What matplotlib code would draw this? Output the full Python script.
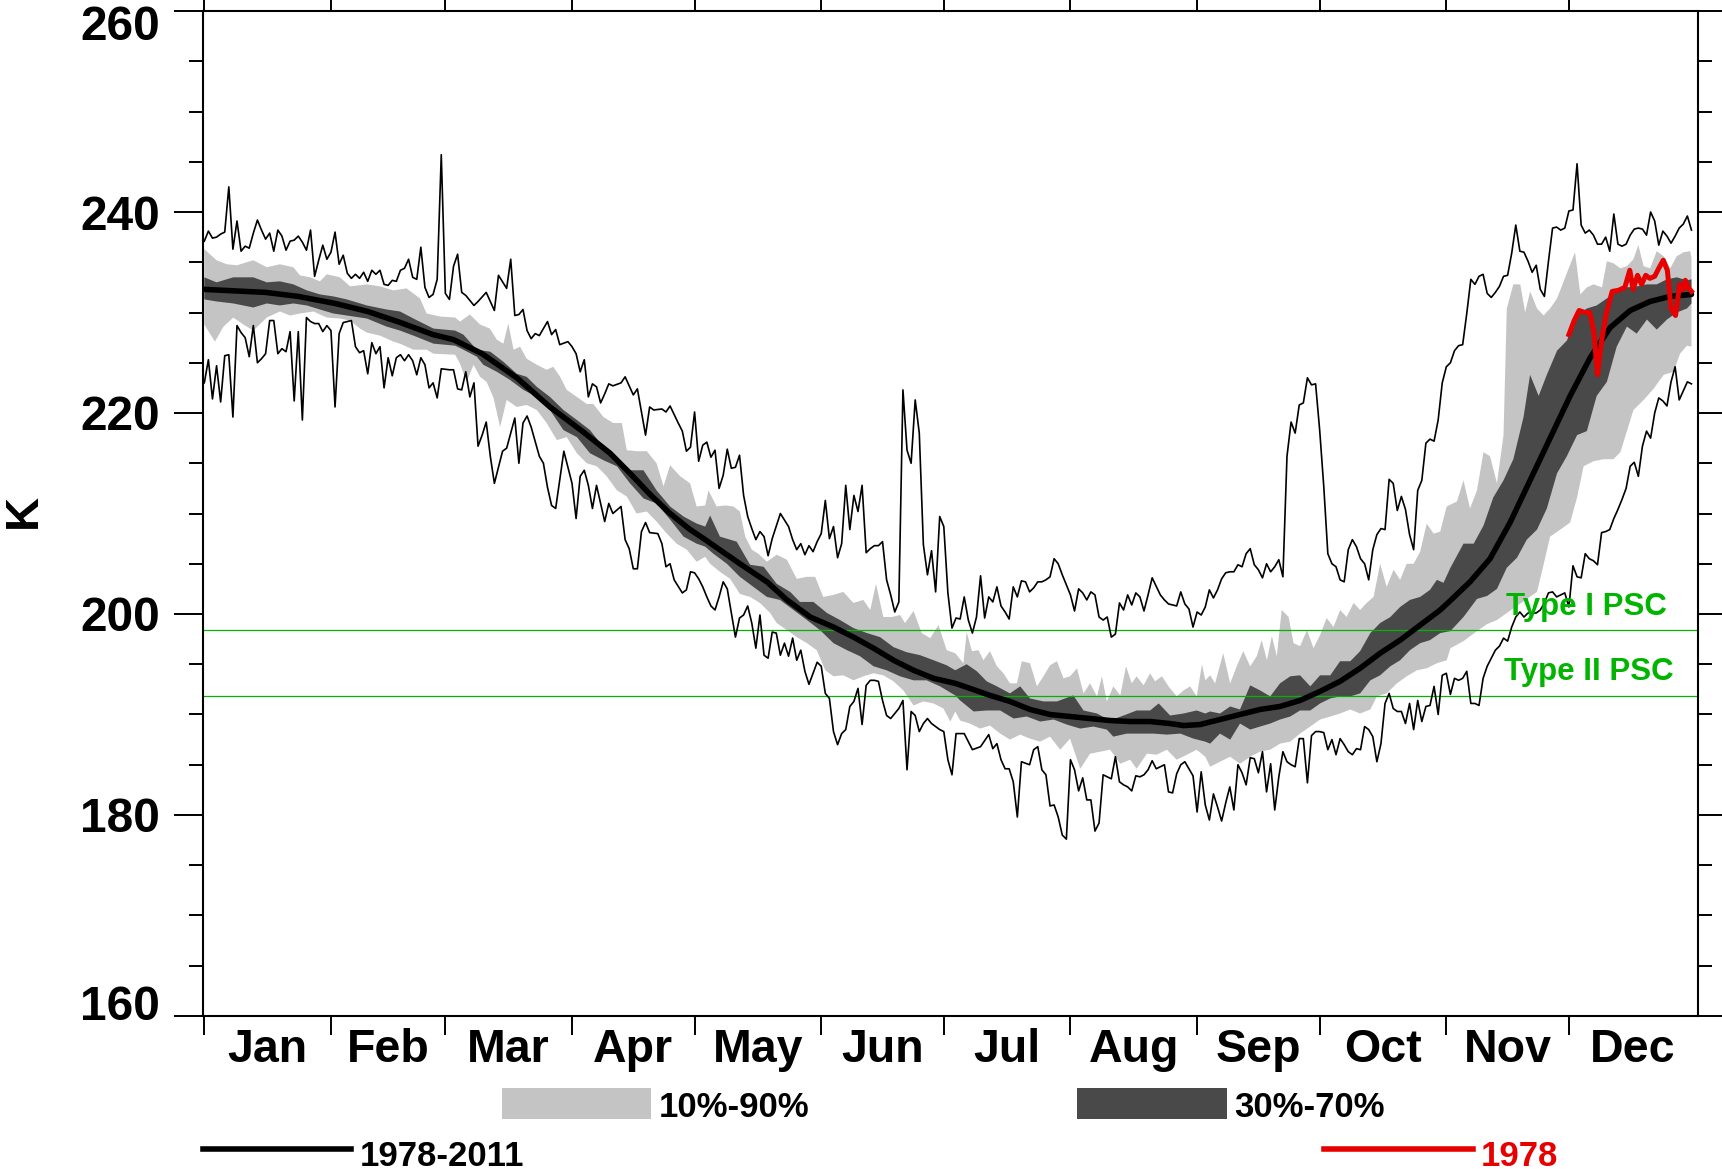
import numpy as np
import matplotlib
matplotlib.use("Agg")
import matplotlib.pyplot as plt
from matplotlib.ticker import MultipleLocator
from matplotlib.patches import Rectangle
from matplotlib.lines import Line2D
from matplotlib.transforms import ScaledTranslation

plt.rcParams['font.family'] = ['Liberation Sans', 'DejaVu Sans']
plt.rcParams['font.weight'] = 'bold'

# ---------------- data ----------------
months = ['Jan', 'Feb', 'Mar', 'Apr', 'May', 'Jun', 'Jul', 'Aug', 'Sep', 'Oct', 'Nov', 'Dec']
month_start = [1, 32, 60, 91, 121, 152, 182, 213, 244, 274, 305, 335]
year_end = 366
y_ticks = [160, 180, 200, 220, 240, 260]
psc_type1 = 198.4
psc_type2 = 191.8

# daily maximum (day, K)
tmax = [(1,237.1),(2,238.1),(3,237.4),(4,237.5),(5,237.8),(6,238.0),(7,242.5),(8,236.3),(9,239.1),(10,236.1),
(11,236.6),(12,236.4),(13,237.9),(14,239.2),(15,238.2),(16,237.3),(17,237.9),(18,236.1),(19,238.2),(20,237.6),
(21,236.2),(22,237.1),(23,237.2),(24,237.6),(25,237.0),(26,236.2),(27,238.2),(28,233.6),(29,235.2),(30,236.7),
(31,235.3),(32,236.0),(33,238.0),(34,234.8),(35,235.7),(36,233.9),(37,233.4),(38,233.8),(39,233.4),(40,234.0),
(41,233.1),(42,234.2),(43,233.8),(44,234.2),(45,232.8),(46,232.7),(47,233.2),(48,233.1),(49,234.2),(50,234.4),
(51,235.3),(52,233.5),(53,233.3),(54,236.5),(55,232.5),(56,231.5),(57,231.8),(58,233.3),(59,245.7),(60,231.9),
(61,231.3),(62,234.6),(63,235.8),(64,232.0),(65,231.7),(67,230.7),(68,231.1),(70,232.0),(72,230.2),(73,233.7),
(75,232.4),(76,235.3),(77,229.7),(78,229.8),(79,230.3),(80,228.2),(81,227.4),(82,227.9),(83,227.7),(85,229.1),
(86,227.8),(87,228.3),(88,226.8),(90,227.1),(91,226.6),(92,225.9),(93,224.1),(94,225.3),(95,221.6),(96,222.9),
(97,222.6),(98,221.0),(99,221.9),(100,222.9),(101,222.7),(103,223.0),(104,223.6),(106,221.8),(107,222.4),(109,217.8),
(110,220.6),(111,220.3),(113,220.4),(114,220.1),(115,220.7),(117,219.0),(118,218.2),(119,216.2),(120,216.6),(121,220.1),
(122,215.2),(123,216.8),(124,217.1),(125,215.6),(126,216.3),(127,212.5),(128,213.8),(129,216.4),(130,214.5),(131,214.6),
(132,215.8),(133,211.8),(134,209.7),(135,208.5),(136,207.4),(137,208.2),(138,207.7),(139,205.8),(140,207.5),(142,210.0),
(144,208.7),(145,207.4),(146,206.4),(147,207.0),(148,205.9),(149,206.8),(150,206.2),(151,207.2),(152,208.0),(153,211.3),
(154,207.5),(155,208.7),(156,205.6),(157,207.0),(158,212.8),(159,208.4),(160,211.8),(161,210.2),(162,212.8),(163,206.1),
(164,206.5),(165,206.8),(166,206.8),(167,207.2),(168,203.4),(169,201.9),(170,200.2),(171,201.2),(172,222.3),(173,216.3),
(174,215.0),(175,221.3),(176,218.0),(177,206.9),(178,203.9),(179,206.3),(180,202.2),(181,209.7),(182,208.7),(183,202.1),
(184,198.6),(185,199.6),(186,199.5),(187,201.7),(188,199.4),(189,198.1),(190,199.7),(191,203.8),(192,199.6),(193,201.7),
(194,201.2),(195,202.7),(196,200.8),(197,200.2),(198,199.5),(199,202.7),(200,201.7),(201,203.3),(202,203.2),(203,202.2),
(204,202.6),(205,203.2),(206,203.2),(207,203.4),(208,203.7),(209,205.5),(210,205.0),(211,203.9),(212,202.9),(213,201.9),
(214,200.3),(215,202.5),(216,202.1),(217,201.4),(218,202.2),(219,201.9),(220,199.7),(221,199.4),(222,199.7),(223,197.7),
(224,198.0),(225,201.1),(226,200.4),(227,201.9),(228,200.9),(229,202.1),(230,201.7),(231,200.3),(232,201.9),(233,203.6),
(235,201.9),(236,201.4),(237,201.0),(239,200.8),(240,202.2),(241,201.0),(242,200.5),(243,198.7),(244,200.2),(245,199.9),
(246,200.7),(247,202.4),(248,201.6),(249,202.4),(250,203.5),(251,204.1),(252,204.2),(253,204.2),(254,204.9),(255,204.7),
(256,206.0),(257,206.5),(258,204.9),(259,204.4),(260,203.6),(261,205.0),(262,204.2),(263,204.7),(264,205.4),(265,203.7),
(266,215.7),(267,219.1),(268,218.0),(269,220.8),(270,221.0),(271,223.5),(272,222.8),(273,222.9),(274,218.3),(275,212.7),
(276,206.0),(277,205.0),(278,204.7),(279,203.4),(280,203.2),(281,206.4),(282,207.4),(283,206.7),(284,205.5),(285,205.0),
(286,203.4),(287,206.4),(288,207.9),(289,208.5),(290,208.4),(291,213.4),(292,213.0),(293,210.3),(294,211.7),(295,210.4),
(296,207.9),(297,206.4),(298,212.3),(299,213.3),(300,217.0),(301,217.4),(302,217.2),(303,219.3),(304,223.0),(305,224.6),
(306,225.0),(307,226.2),(308,226.7),(309,226.8),(310,229.9),(311,233.3),(312,232.8),(313,233.6),(314,233.8),(315,231.9),
(316,231.5),(317,232.0),(318,232.6),(319,233.6),(320,233.7),(321,235.9),(322,238.7),(323,236.1),(324,236.0),(325,235.1),
(326,234.0),(327,234.7),(328,232.3),(329,231.6),(330,235.1),(331,238.4),(332,238.5),(333,238.2),(334,238.4),(335,240.1),
(336,240.2),(337,244.8),(338,238.7),(339,237.9),(340,238.2),(341,237.7),(342,236.8),(343,236.8),(344,237.5),(345,236.1),
(346,239.8),(347,236.8),(348,236.6),(349,236.8),(350,237.7),(351,238.3),(352,238.4),(353,238.3),(354,237.7),(355,240.0),
(356,239.1),(357,236.7),(358,238.1),(359,237.6),(360,236.9),(361,237.6),(362,238.4),(363,238.8),(364,239.6),(365,238.2)]

# daily minimum (day, K)
tmin = [(1,223.0),(2,225.3),(3,221.4),(4,224.7),(5,221.1),(6,225.7),(7,225.8),(8,219.6),(9,228.7),(10,228.0),
(11,227.5),(12,225.6),(13,228.7),(14,225.0),(15,225.4),(16,225.9),(17,229.2),(18,229.2),(19,225.9),(20,226.4),
(21,226.1),(22,228.1),(23,221.2),(24,228.1),(25,219.3),(26,229.5),(27,229.1),(28,228.9),(29,228.9),(30,228.1),
(31,228.7),(32,228.2),(33,220.6),(34,227.9),(35,229.0),(36,229.1),(37,229.2),(38,226.6),(39,226.0),(40,226.2),
(41,223.9),(42,227.0),(43,225.9),(44,226.6),(45,222.5),(46,225.5),(47,223.7),(48,225.5),(49,225.8),(50,225.2),
(51,225.8),(52,225.2),(53,223.8),(54,225.5),(55,224.8),(56,222.5),(57,223.0),(58,221.5),(59,224.4),(61,224.3),
(62,224.3),(63,222.4),(64,222.3),(65,224.1),(66,221.6),(67,223.0),(68,216.7),(69,217.8),(70,219.1),(71,215.7),
(72,213.0),(74,216.2),(75,216.5),(77,219.5),(78,215.0),(79,219.0),(80,219.7),(81,218.6),(83,215.7),(84,215.0),
(85,212.6),(86,210.8),(87,210.5),(89,216.2),(91,213.0),(92,209.5),(93,213.7),(94,214.3),(95,212.8),(96,210.5),
(97,212.8),(99,209.2),(100,211.0),(101,210.0),(103,210.7),(104,207.4),(105,206.5),(106,204.5),(107,204.5),(108,208.2),
(109,209.1),(110,208.1),(112,208.0),(113,207.0),(114,204.7),(115,205.0),(116,203.4),(118,202.1),(119,202.4),(120,204.2),
(121,204.1),(122,203.5),(123,202.7),(124,201.7),(125,200.8),(126,200.4),(127,201.7),(128,203.2),(129,202.5),(130,200.1),
(131,197.7),(132,199.6),(133,199.9),(134,200.8),(135,199.1),(136,196.6),(137,199.9),(138,195.9),(139,195.6),(140,198.2),
(141,198.1),(142,195.9),(143,197.1),(144,195.8),(145,197.6),(146,195.4),(147,196.4),(148,194.3),(149,193.0),(150,194.1),
(151,195.2),(152,194.8),(153,192.1),(154,191.6),(155,188.3),(156,187.0),(157,188.1),(158,188.5),(159,190.8),(160,191.3),
(161,192.6),(162,189.0),(163,192.9),(164,193.4),(165,193.4),(166,193.3),(167,191.4),(168,189.9),(169,189.6),(170,190.1),
(171,190.6),(172,191.4),(173,184.5),(174,190.3),(175,189.9),(176,188.3),(177,189.1),(178,189.6),(179,189.1),(180,188.8),
(181,188.5),(182,188.3),(183,185.5),(184,184.0),(185,188.1),(187,188.1),(189,186.5),(191,186.8),(193,188.0),(194,186.6),
(195,187.1),(196,185.5),(197,184.6),(198,184.6),(199,183.3),(200,179.8),(201,185.3),(203,185.0),(204,186.5),(205,186.8),
(206,184.5),(207,184.0),(208,180.9),(209,181.0),(210,179.8),(211,178.0),(212,177.6),(213,185.5),(214,184.5),(215,182.4),
(216,183.7),(217,181.5),(218,181.5),(219,178.4),(220,179.2),(221,184.0),(222,183.8),(223,183.6),(224,185.8),(225,183.3),
(226,183.0),(227,182.8),(228,182.4),(229,183.9),(230,183.8),(231,184.0),(232,184.5),(233,185.4),(234,184.6),(236,185.0),
(237,182.3),(238,182.2),(239,184.1),(240,185.0),(241,185.3),(242,184.6),(243,183.9),(244,180.3),(245,184.3),(246,181.0),
(247,179.5),(248,182.1),(249,180.8),(250,179.4),(251,181.2),(252,182.8),(253,180.5),(254,185.0),(255,184.2),(256,183.0),
(257,185.7),(258,185.6),(259,184.2),(260,186.3),(261,182.3),(262,185.1),(263,180.5),(264,183.8),(265,186.3),(266,185.3),
(267,185.0),(268,184.8),(269,187.6),(270,187.6),(271,183.2),(272,187.9),(273,188.3),(274,188.3),(275,188.2),(276,186.5),
(277,187.5),(278,186.0),(279,187.6),(280,187.0),(281,186.3),(282,186.0),(283,186.6),(284,186.5),(285,188.8),(286,188.5),
(287,187.8),(288,185.3),(289,187.1),(290,191.1),(291,192.1),(292,190.6),(293,190.3),(294,190.3),(295,189.1),(296,191.1),
(297,188.5),(298,191.4),(299,189.3),(300,190.8),(301,190.9),(302,192.8),(303,190.0),(304,193.9),(305,194.1),(306,192.0),
(307,193.6),(308,193.4),(309,193.6),(310,194.3),(311,191.1),(312,191.1),(313,190.9),(314,193.6),(315,194.8),(316,195.6),
(317,196.4),(318,196.8),(319,197.6),(320,197.3),(321,198.7),(322,199.7),(323,200.2),(324,199.7),(325,200.1),(327,200.1),
(328,200.4),(329,201.1),(330,202.1),(331,202.2),(332,201.7),(334,202.1),(335,200.7),(336,204.8),(337,203.7),(338,203.6),
(339,206.0),(340,205.5),(341,205.3),(342,204.9),(343,208.1),(344,208.2),(345,208.4),(346,209.5),(347,210.4),(348,211.4),
(349,212.5),(350,214.7),(351,215.1),(352,213.7),(353,216.7),(354,218.2),(355,217.5),(356,220.0),(357,221.5),(358,221.2),
(359,220.7),(360,223.1),(361,224.6),(362,221.3),(363,222.2),(364,223.1),(365,222.9)]

# climatological mean (day, K)
tmean = [(1,232.3),(16,232.0),(24,231.6),(33,230.9),(41,230.1),(49,229.0),(57,227.8),(62,227.3),(69,225.9),(77.5,223.5),
(85.6,220.6),(93.8,218.1),(100.3,216.0),(105.2,214.0),(110.1,211.9),(115,210.0),(119.9,208.4),(123.6,207.4),(132.1,205.0),
(138.7,203.2),(143.6,201.4),(149.3,199.7),(155,198.7),(159.9,197.7),(164.8,196.6),(169.7,195.4),(174.6,194.4),(179.5,193.6),
(184.8,193.1),(188.4,192.6),(193.3,191.9),(198.2,191.3),(203.1,190.5),(208,190.0),(212.9,189.8),(217.8,189.6),(222.7,189.4),
(227.6,189.3),(232.5,189.3),(237.4,189.1),(240.7,188.9),(244.7,189.0),(249.6,189.5),(254.5,190.0),(259.4,190.5),(264.3,190.8),
(269.2,191.4),(274.1,192.3),(279,193.3),(283.9,194.6),(288.8,196.1),(293.7,197.4),(298.6,198.9),(303.5,200.4),(305.9,201.3),
(310.8,203.2),(315.7,205.5),(320.6,209.1),(325.5,213.3),(330.4,217.5),(335.3,221.7),(340.2,225.5),(345.1,228.5),(350,230.2),
(354.9,231.1),(359.8,231.6),(365,231.8)]

# 90th percentile (day, K)
p90 = [(1,236.3),(4,235.2),(6.5,234.8),(9,234.7),(13,235.2),(16.3,234.5),(19.5,234.8),(22.8,234.5),(24.4,233.7),(26.9,233.5),
(29.3,233.1),(31,233.8),(34.2,233.5),(36.7,232.6),(40.8,232.8),(44,232.6),(47.3,232.2),(50.5,232.4),(53.8,231.4),(55.4,229.9),
(58.7,229.6),(62.4,229.5),(63.6,229.1),(66,229.8),(68.5,228.8),(70.9,228.4),(72.6,227.3),(74.2,226.9),(75.4,228.9),(76.7,226.3),
(78.3,226.6),(79.9,225.4),(82.4,224.8),(84.8,224.3),(86.4,224.6),(88.1,223.6),(89.7,222.3),(92.2,221.6),(94.6,220.9),(96.2,220.9),
(98.7,219.6),(101.1,219.0),(103.2,219.0),(104.4,216.3),(106.8,216.2),(109.3,216.2),(111.7,215.0),(113.4,212.7),(115,214.8),
(117.5,213.7),(119.9,213.0),(121.5,210.7),(123.6,210.8),(124.4,212.3),(126.4,210.7),(128.5,210.8),(130.5,210.7),(132.1,210.2),
(133.4,207.7),(135,206.4),(136.6,206.0),(138.7,205.2),(141.1,205.9),(143.6,205.4),(146,203.5),(148.5,203.7),(150.5,203.7),
(152.5,201.7),(155,201.9),(157.4,202.2),(159.9,201.1),(162.3,201.4),(164,200.4),(165.4,203.0),(167.2,199.7),(169.3,199.7),
(171.3,199.9),(172.5,199.1),(174.6,200.3),(176.6,198.1),(178.7,197.6),(180.7,198.9),(182.7,196.4),(184.8,196.1),(186.8,195.1),
(187.6,198.2),(188.9,196.3),(190.5,196.4),(191.7,195.4),(193.3,196.3),(195,194.8),(196.6,194.1),(198.2,193.1),(199.9,193.1),
(201.1,195.3),(203.1,195.1),(204.8,192.8),(206.4,193.8),(208,194.9),(209.7,195.3),(211.3,193.6),(212.9,193.8),(214.6,194.6),
(216.2,192.1),(217.8,193.1),(219.5,191.8),(220.7,193.8),(221.9,191.3),(223.5,192.8),(225.2,191.9),(226.6,194.8),(228,193.1),
(229.2,193.8),(230.9,192.9),(232.5,194.1),(233.7,193.3),(235.4,193.8),(237,192.8),(239,191.8),(240.7,192.4),(242.3,192.8),
(243.9,191.8),(245.2,195.0),(246,193.4),(247.2,193.9),(248.4,193.1),(250.4,196.1),(252.1,193.1),(253.7,194.8),(255.3,196.3),
(257,194.8),(258.6,195.8),(259.8,197.4),(261.1,195.4),(262.3,197.8),(263.5,195.8),(264.7,200.4),(266.4,199.7),(267.6,197.1),
(269.2,196.8),(270.9,198.4),(272.5,196.6),(274.1,197.9),(275.7,199.6),(277.4,198.7),(279,200.4),(280.6,199.7),(282.3,201.1),
(283.9,200.4),(285.5,201.1),(287.2,201.7),(288.8,205.0),(290.4,202.7),(292.1,204.4),(293.7,203.4),(295.3,205.0),(297,205.0),
(298.6,206.2),(300.2,209.0),(301.9,208.0),(303.5,208.2),(305.1,210.7),(307.6,211.2),(309.2,213.3),(310.8,210.5),(312.5,212.3),
(314.1,216.1),(315.7,215.7),(317.4,213.0),(319,217.8),(319.8,230.4),(321.4,232.8),(323.1,232.8),(324.3,230.0),(325.5,232.1),
(327.2,230.4),(328.8,229.7),(330.4,230.4),(332.1,231.4),(334.1,233.5),(336.5,236.0),(337.8,231.8),(339.4,232.5),(341,232.8),
(343.1,232.5),(344.3,235.1),(345.9,234.9),(347.6,234.4),(349.2,234.6),(350.8,235.3),(352,236.7),(353.3,234.6),(354.9,234.4),
(356.5,236.1),(358.2,235.6),(359.8,234.4),(361.4,235.6),(363.1,236.0),(364.7,236.1),(365,235.4)]

# 10th percentile (day, K)
p10 = [(1,228.8),(3.6,227.1),(5.7,228.6),(8.1,229.5),(10.6,228.8),(13,228.2),(16.3,229.5),(19.5,230.1),(22,229.7),(24.4,229.9),
(27.7,230.1),(31,229.5),(34.2,229.4),(36.7,229.2),(39.1,228.4),(40.8,228.0),(44,227.7),(47.3,227.1),(48.9,226.9),(52.2,226.3),
(55.4,226.3),(57.1,225.9),(62.4,225.8),(63.6,224.9),(65.2,223.1),(66.9,224.8),(68.5,223.6),(70.1,223.1),(71.8,221.5),(73.4,218.6),
(75,221.3),(77.5,220.6),(79.9,220.8),(82.4,220.3),(84.8,219.0),(87.3,217.3),(89.7,217.6),(92.2,216.0),(94.6,215.0),(97.1,214.7),
(99.5,213.7),(102,212.3),(104.4,211.7),(106.8,210.0),(109.3,210.2),(111.7,209.2),(114.2,208.0),(116.6,207.0),(119.1,206.4),
(121.5,205.2),(123.6,205.7),(124.8,205.0),(127.2,204.2),(129.7,203.5),(132.1,202.0),(134.6,201.7),(137,201.1),(139.5,200.1),
(141.1,199.1),(143.6,198.4),(146,197.7),(148.5,197.1),(150.9,196.4),(153,194.4),(155,193.8),(157.4,193.9),(159.9,193.4),
(162.3,193.8),(164.8,194.1),(167.2,193.9),(169.7,193.3),(172.1,192.4),(174.6,190.9),(177,191.3),(179.5,191.1),(181.9,190.6),
(183.6,189.3),(184.8,190.3),(186,189.4),(188.4,189.1),(190.9,188.6),(193.3,188.9),(195.8,188.1),(198.2,187.5),(200.7,188.0),
(203.1,187.6),(205.6,187.3),(208,187.8),(210.5,186.5),(212.9,187.6),(215.4,184.6),(217.8,186.1),(220.3,186.3),(222.7,186.5),
(225.2,185.1),(227.6,185.5),(229.2,184.6),(231.7,186.1),(234.1,186.0),(236.6,186.5),(239,185.5),(241.5,186.0),(243.9,186.5),
(246,185.8),(247.2,184.8),(249.6,185.3),(252.1,185.8),(254.5,185.1),(257,185.8),(259.4,186.3),(261.9,186.5),(264.3,187.1),
(266.8,187.3),(269.2,188.1),(271.7,188.8),(274.1,189.5),(276.6,189.8),(279,190.1),(281.5,190.5),(283.9,190.1),(286.4,190.5),
(288,191.8),(290.4,192.1),(292.9,193.1),(295.3,193.8),(297.8,194.4),(300.2,194.6),(302.7,195.1),(305.1,195.4),(306,196.6),
(309.2,197.3),(312.5,198.3),(315,199.0),(317.4,199.4),(319.8,200.1),(322.3,200.8),(324.7,201.5),(327.2,202.2),(328.8,204.9),
(330.4,207.7),(332.9,208.4),(335.3,209.1),(337,211.6),(338.6,214.7),(341,215.2),(343.5,215.4),(345.9,215.4),(347.6,216.1),
(349.2,218.2),(350.8,220.3),(353.3,221.3),(355.7,222.4),(358.2,223.8),(360.6,224.1),(362.2,225.9),(363.9,226.7),(365,226.6)]

# 70th percentile (day, K)
p70 = [(1,233.5),(4,233.0),(8.1,233.5),(13,233.5),(16.3,233.0),(19.5,233.1),(22.8,232.8),(26.1,232.2),(29.3,231.8),(32.6,231.6),
(35.9,231.3),(40.8,230.7),(45.6,230.3),(48.9,230.1),(52.2,229.4),(57.1,228.4),(62.4,228.2),(64.4,227.8),(67.7,226.3),(71,226.1),
(74.2,225.1),(77.5,223.9),(79.9,223.6),(82.4,222.6),(85.6,221.6),(88.9,220.3),(92.2,219.3),(95.4,218.3),(98.7,216.6),(102,215.3),
(105.2,214.3),(108.5,214.3),(111.7,212.3),(115,210.7),(118.3,209.7),(121.5,209.0),(123.6,208.7),(124.8,209.8),(127.2,207.7),
(131.3,207.2),(134.6,204.9),(137.9,204.7),(141.1,203.0),(144.4,202.2),(146.8,201.2),(150.1,201.2),(153.4,200.1),(156.6,199.4),
(159.9,198.6),(163.2,198.1),(166.4,197.7),(169.7,196.7),(172.9,196.2),(176.2,195.9),(179.5,195.4),(182.7,194.9),(184.8,194.4),
(187.6,195.0),(190.1,194.3),(192.5,193.3),(195,192.8),(198.2,192.1),(200.7,192.8),(203.1,191.6),(206.4,191.3),(209.7,191.3),
(213.7,191.9),(216.2,190.4),(219.5,190.1),(222.7,189.4),(226,189.9),(229.2,190.4),(232.5,190.4),(234.6,191.1),(237.4,189.9),
(240.7,190.1),(243.9,190.4),(246,190.1),(247.2,190.3),(249.6,190.1),(252.1,190.8),(254.5,190.5),(257,192.9),(259.4,192.4),
(261.9,191.8),(264.3,193.1),(266.8,193.8),(269.2,193.9),(271.7,192.8),(274.1,193.9),(276.6,193.9),(279,195.3),(281.5,195.3),
(283.9,196.3),(286.4,198.1),(288.8,199.1),(291.3,199.7),(293.7,200.7),(296.1,201.4),(298.6,201.7),(301,202.4),(302.7,203.4),
(304.3,203.1),(306,204.6),(309.2,207.0),(311.7,207.0),(314.1,208.8),(316.5,211.6),(319,213.3),(321.4,215.4),(323.9,219.6),
(325.5,223.8),(327.6,221.7),(329.6,223.8),(332.1,226.2),(334.5,227.2),(337,229.7),(339.4,230.4),(341.8,230.7),(344.3,231.4),
(346.7,232.1),(349.2,232.5),(351.6,232.6),(354.1,232.8),(356.5,232.8),(359,233.3),(361.4,233.5),(363.9,233.2),(365,233.3)]

# 30th percentile (day, K)
p30 = [(1,231.3),(4,231.1),(8.1,230.9),(13,230.5),(16.3,230.9),(19.5,230.7),(22.8,230.9),(26.1,230.7),(29.3,230.3),(32.6,229.9),
(35.9,229.7),(40.8,229.4),(45.6,228.6),(48.9,228.2),(52.2,227.7),(57.1,226.9),(62.4,226.7),(64.4,226.3),(67.7,225.6),(69.3,224.8),
(72.6,224.1),(75.8,223.3),(79.1,222.3),(82.4,221.6),(85.6,220.3),(88.9,218.3),(92.2,217.6),(95.4,216.0),(98.7,215.3),(102,214.7),
(105.2,213.0),(108.5,211.5),(111.7,211.0),(115,209.4),(118.3,207.7),(121.5,207.0),(123.6,206.7),(125.6,206.0),(128.9,205.0),
(132.1,203.7),(135.4,202.7),(138.7,201.7),(141.9,201.4),(145.2,200.4),(148.5,199.4),(151.7,198.4),(155,197.1),(158.3,196.4),
(161.5,195.8),(164.8,194.8),(168,194.4),(171.3,193.8),(174.6,193.4),(177.8,193.4),(181.1,192.8),(184.8,191.9),(186,191.4),
(189.3,190.3),(192.5,190.4),(195.8,190.4),(199.1,189.6),(202.3,189.8),(205.6,189.3),(208.9,189.5),(212.1,189.0),(215.4,188.6),
(218.6,188.8),(221.9,188.5),(223.5,187.8),(226.8,188.1),(230.1,188.1),(233.3,188.1),(236.6,188.0),(239.9,188.1),(243.1,187.6),
(246,187.3),(247.2,187.1),(249.6,188.1),(252.1,187.5),(254.5,189.1),(257,188.5),(259.4,188.8),(261.9,189.1),(264.3,189.5),
(266.8,189.8),(269.2,190.4),(271.7,190.4),(274.1,191.1),(276.6,191.6),(279,191.8),(281.5,191.8),(283.9,192.1),(286.4,193.4),
(288.8,193.9),(291.3,194.8),(293.7,195.4),(296.1,196.4),(298.6,197.1),(301,197.4),(303.5,198.1),(306,198.3),(309.2,199.7),
(312.5,201.5),(315,201.8),(317.4,202.5),(319.8,204.6),(322.3,205.6),(324.7,207.4),(327.2,208.4),(329.6,210.5),(332.1,214.0),
(334.5,215.7),(337,217.8),(339.4,218.2),(341.8,221.7),(344.3,223.1),(346.7,226.6),(349.2,228.6),(351.6,227.9),(354.1,229.3),
(356.5,228.3),(359,229.3),(361.4,230.0),(363.9,230.4),(365,230.9)]

# year 1978 (day, K)
t1978 = [(335,227.8),(336.3,229.2),(337.5,230.2),(338.9,230.0),(340.1,230.0),(341.1,228.1),(342,223.8),(343,227.2),(344.2,230.0),
(345.6,232.1),(347.1,232.2),(348.7,232.5),(349.9,234.2),(350.7,232.3),(351.8,233.7),(352.8,232.8),(353.8,233.7),(354.8,233.4),
(356,233.6),(357,234.4),(358.1,235.2),(359.1,234.2),(360,230.4),(361.1,229.7),(362.1,232.8),(363,232.3),(363.5,233.2),
(364.2,232.5),(365,232.1)]

legend_labels = ['10%-90%', '30%-70%', '1978-2011', '1978']

# ---------------- styling ----------------
LIGHT = '#c4c4c4'
DARK = '#494949'
GREEN = '#00b400'
RED = '#e60000'

def unzip(pairs):
    a = np.array(pairs, dtype=float)
    return a[:, 0], a[:, 1]

W, H = 1722, 1169
fig = plt.figure(figsize=(W / 100, H / 100), dpi=100)
ax = fig.add_axes([203 / W, 1 - 1016 / H, 1495 / W, 1005 / H])

for up, lo, col in [(p90, p10, LIGHT), (p70, p30, DARK)]:
    ux, uy = unzip(up)
    lx, ly = unzip(lo)
    ax.fill(np.concatenate([ux, lx[::-1]]), np.concatenate([uy, ly[::-1]]),
            color=col, lw=0, zorder=1)

ax.axhline(psc_type1, color=GREEN, lw=0.9, zorder=2)
ax.axhline(psc_type2, color=GREEN, lw=0.9, zorder=2)

x, y = unzip(tmax)
ax.plot(x, y, color='black', lw=1.2, zorder=3)
x, y = unzip(tmin)
ax.plot(x, y, color='black', lw=1.2, zorder=3)
x, y = unzip(tmean)
ax.plot(x, y, color='black', lw=4.0, zorder=4, solid_joinstyle='round', solid_capstyle='round')
x, y = unzip(t1978)
ax.plot(x, y, color=RED, lw=3.6, zorder=5, solid_joinstyle='round')

ax.text(319.5, 199.9, 'Type I PSC', color=GREEN, fontsize=22.5, fontweight='bold', va='baseline', zorder=6)
ax.text(319.2, 193.4, 'Type II PSC', color=GREEN, fontsize=22.5, fontweight='bold', va='baseline', zorder=6)

ax.set_xlim(0.68, 366.6)
ax.set_ylim(160, 260)

ax.set_yticks(y_ticks)
ax.set_yticklabels([str(v) for v in y_ticks])
ax.yaxis.set_minor_locator(MultipleLocator(5))

ax.set_xticks(month_start)
ax.set_xticklabels([''] * len(month_start))
mids = [(a + b) / 2 for a, b in zip(month_start, month_start[1:] + [year_end])]
ax.set_xticks(mids, minor=True)
ax.set_xticklabels(months, minor=True)

ax.tick_params(axis='y', which='major', direction='out', length=21, width=1.4,
               labelsize=34.5, pad=10, left=True, right=True, labelright=False)
ax.tick_params(axis='y', which='minor', direction='out', length=10, width=1.4,
               left=True, right=True)
ax.tick_params(axis='x', which='major', direction='out', length=14, width=1.4,
               bottom=True, top=True, labelbottom=False, labeltop=False)
ax.tick_params(axis='x', which='minor', length=0, labelsize=33.5, pad=9,
               bottom=True, top=False)
for s in ax.spines.values():
    s.set_linewidth(1.5)

# nudge the end labels inside the figure, as in the reference
ylabels = ax.get_yticklabels()
ylabels[-1].set_transform(ylabels[-1].get_transform() + ScaledTranslation(0, -0.11, fig.dpi_scale_trans))
ylabels[0].set_transform(ylabels[0].get_transform() + ScaledTranslation(0, 0.13, fig.dpi_scale_trans))

fig.text(24 / W, 1 - 511 / H, 'K', rotation=90, fontsize=34, ha='center', va='center')

# legend
fig.patches.append(Rectangle((502 / W, 1 - 1119 / H), 149 / W, 31 / H,
                             transform=fig.transFigure, color=LIGHT, lw=0))
fig.text(659 / W, 1 - 1117 / H, legend_labels[0], fontsize=25, va='baseline')
fig.patches.append(Rectangle((1077 / W, 1 - 1119 / H), 150 / W, 31 / H,
                             transform=fig.transFigure, color=DARK, lw=0))
fig.text(1234 / W, 1 - 1117 / H, legend_labels[1], fontsize=25, va='baseline')
fig.lines.append(Line2D([203 / W, 351 / W], [1 - 1149 / H] * 2,
                        transform=fig.transFigure, color='black', lw=4))
fig.text(360 / W, 1 - 1166 / H, legend_labels[2], fontsize=25, va='baseline')
fig.lines.append(Line2D([1324 / W, 1473 / W], [1 - 1149 / H] * 2,
                        transform=fig.transFigure, color=RED, lw=4))
fig.text(1481 / W, 1 - 1166 / H, legend_labels[3], fontsize=25, va='baseline', color=RED)

fig.savefig('out.png', dpi=100)
